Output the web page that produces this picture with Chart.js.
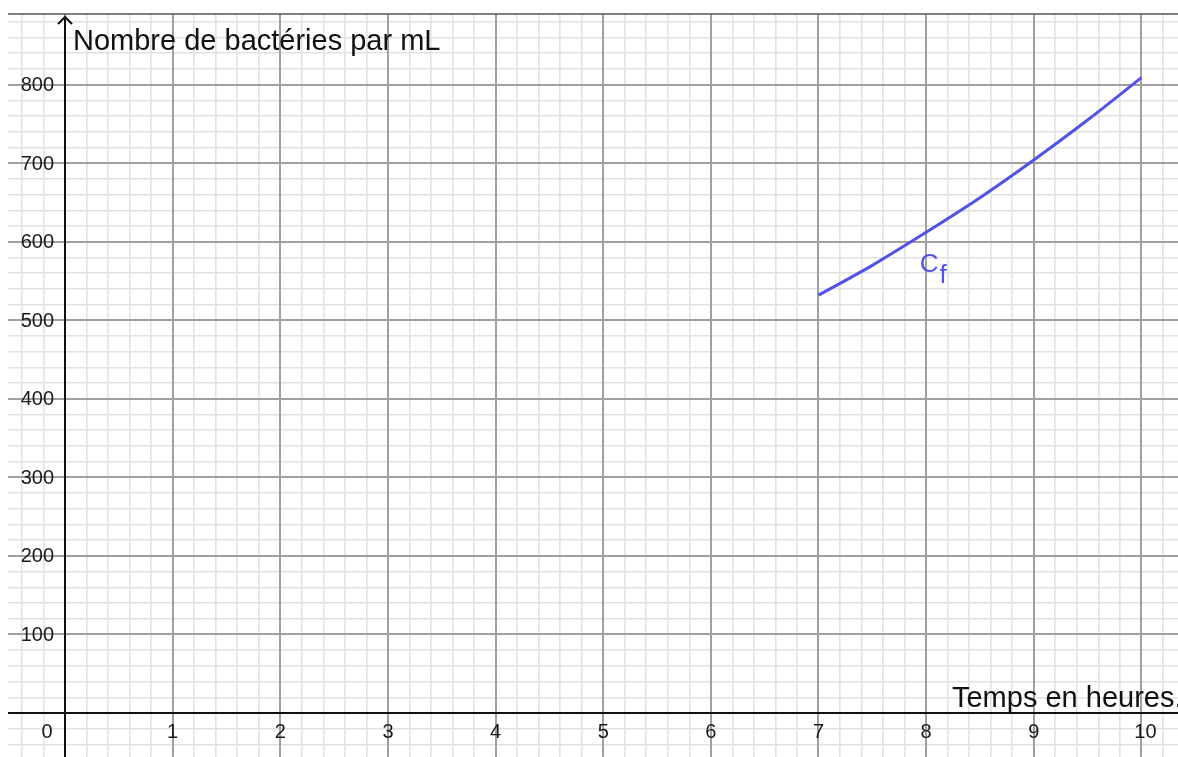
<!DOCTYPE html>
<html lang="fr">
<head>
<meta charset="utf-8">
<title>Nombre de bactéries par mL</title>
<script src="https://cdn.jsdelivr.net/npm/chart.js@4"></script>
<style>
  html, body { margin: 0; padding: 0; background: #fff; }
  #zone { width: 1178px; height: 757px; position: relative; }
</style>
</head>
<body>
<div id="zone"><canvas id="courbe"></canvas></div>
<script>
// Données
const heures = [7, 7.5, 8, 8.5, 9, 9.5, 10];
const bacteries = [532, 570, 612, 656, 704, 755, 809];

// Graduations
const graduationsX = [1, 2, 3, 4, 5, 6, 7, 8, 9, 10];
const graduationsY = [100, 200, 300, 400, 500, 600, 700, 800];

const titreY = "Nombre de bactéries par mL";
const titreX = "Temps en heures.";
const nomCourbe = "C";
const indiceCourbe = "f";

const bleu = "rgb(82, 82, 232)";
const police = "Liberation Sans, Arial, sans-serif";

// Lignes du quadrillage : pas de 0,2 en x et de 20 en y
function quadrillage(pas) {
  return function (scale) {
    const ticks = [];
    const debut = Math.ceil(scale.min / pas);
    const fin = Math.floor(scale.max / pas);
    for (let i = debut; i <= fin; i++) {
      ticks.push({ value: i * pas, major: i % 5 === 0 });
    }
    scale.ticks = ticks;
  };
}

// la grille fine est tracée par Chart.js, les lignes principales par-dessus
function couleurGrille(ctx) {
  return ctx.tick && ctx.tick.major ? "rgba(0,0,0,0)" : "rgb(226, 226, 226)";
}

const grillePlugin = {
  id: "grille",
  beforeDatasetsDraw(chart) {
    const { ctx, chartArea, scales } = chart;
    ctx.save();
    ctx.strokeStyle = "rgb(160, 160, 160)";
    ctx.lineWidth = 2;
    ctx.beginPath();
    scales.x.ticks.filter(t => t.major).forEach(t => {
      const px = Math.round(scales.x.getPixelForValue(t.value));
      ctx.moveTo(px, chartArea.top);
      ctx.lineTo(px, chartArea.bottom);
    });
    scales.y.ticks.filter(t => t.major).forEach(t => {
      const py = Math.round(scales.y.getPixelForValue(t.value));
      ctx.moveTo(chartArea.left, py);
      ctx.lineTo(chartArea.right, py);
    });
    ctx.stroke();
    ctx.restore();
  }
};

// Axes, flèche, graduations et textes
const axesPlugin = {
  id: "axes",
  afterDraw(chart) {
    const { ctx, chartArea, scales } = chart;
    const x0 = Math.round(scales.x.getPixelForValue(0));
    const y0 = Math.round(scales.y.getPixelForValue(0));

    ctx.save();
    // bord supérieur
    ctx.strokeStyle = "#555";
    ctx.lineWidth = 1.5;
    ctx.beginPath();
    ctx.moveTo(chartArea.left, chartArea.top);
    ctx.lineTo(chartArea.right, chartArea.top);
    ctx.stroke();

    // axes
    ctx.strokeStyle = "#111";
    ctx.lineWidth = 2;
    ctx.beginPath();
    ctx.moveTo(chartArea.left, y0);
    ctx.lineTo(chartArea.right, y0);
    ctx.moveTo(x0, chartArea.bottom);
    ctx.lineTo(x0, chartArea.top + 3);
    ctx.moveTo(x0 - 7, chartArea.top + 10);
    ctx.lineTo(x0, chartArea.top + 3);
    ctx.lineTo(x0 + 7, chartArea.top + 10);
    ctx.stroke();

    // graduations
    ctx.fillStyle = "#1a1a1a";
    ctx.font = "20px " + police;
    ctx.textAlign = "right";
    ctx.textBaseline = "middle";
    graduationsY.forEach(v => {
      ctx.fillText(String(v), x0 - 11, scales.y.getPixelForValue(v) + 1);
    });
    ctx.textAlign = "center";
    ctx.fillText("0", x0 - 18, y0 + 19);
    graduationsX.forEach(v => {
      const dx = v >= 10 ? 4 : 0;
      ctx.fillText(String(v), scales.x.getPixelForValue(v) + dx, y0 + 19);
    });

    // titres des axes
    ctx.fillStyle = "#111";
    ctx.font = "29px " + police;
    ctx.textAlign = "left";
    ctx.textBaseline = "alphabetic";
    ctx.fillText(titreY, x0 + 8, chartArea.top + 36);
    ctx.fillText(titreX, scales.x.getPixelForValue(8.24), y0 - 6);

    // nom de la courbe
    ctx.fillStyle = bleu;
    ctx.font = "26px " + police;
    const cx = scales.x.getPixelForValue(7.94);
    const cy = scales.y.getPixelForValue(562);
    ctx.fillText(nomCourbe, cx, cy);
    ctx.fillText(indiceCourbe, cx + ctx.measureText(nomCourbe).width + 1, cy + 11);
    ctx.restore();
  }
};

const styleGrille = {
  drawTicks: false,
  color: couleurGrille,
  lineWidth: 1.6
};

new Chart(document.getElementById("courbe"), {
  type: "scatter",
  data: {
    datasets: [{
      label: "C_f",
      data: heures.map((h, i) => ({ x: h, y: bacteries[i] })),
      showLine: true,
      borderColor: bleu,
      borderWidth: 3,
      pointRadius: 0,
      cubicInterpolationMode: "monotone",
      fill: false
    }]
  },
  options: {
    responsive: true,
    maintainAspectRatio: false,
    animation: false,
    layout: { padding: { left: 8, top: 14, right: 0, bottom: 0 } },
    plugins: {
      legend: { display: false },
      tooltip: { enabled: false }
    },
    scales: {
      x: {
        type: "linear",
        min: -0.53,
        max: 10.34,
        afterBuildTicks: quadrillage(0.2),
        ticks: { display: false },
        border: { display: false },
        grid: styleGrille
      },
      y: {
        type: "linear",
        min: -56,
        max: 890,
        afterBuildTicks: quadrillage(20),
        ticks: { display: false },
        border: { display: false },
        grid: styleGrille
      }
    }
  },
  plugins: [grillePlugin, axesPlugin]
});
</script>
</body>
</html>
